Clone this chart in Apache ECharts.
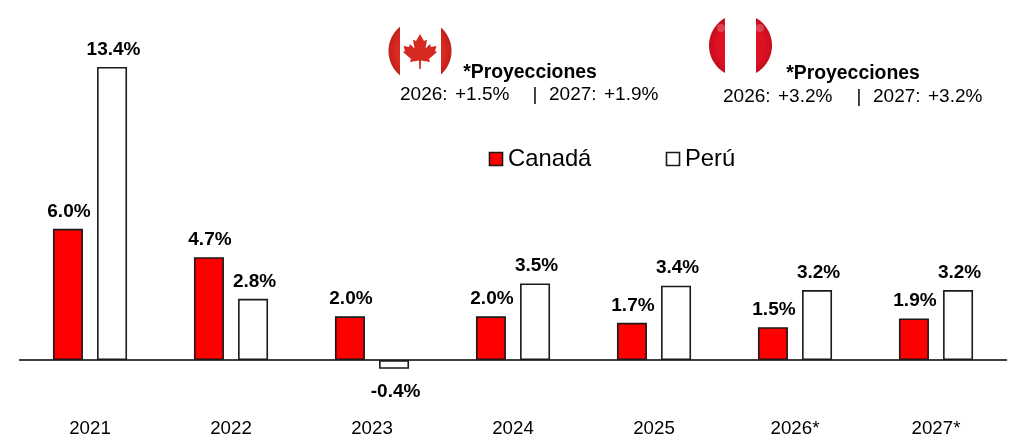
<!DOCTYPE html>
<html><head><meta charset="utf-8">
<style>html,body{margin:0;padding:0;background:#fff}#c{width:1018px;height:438px}</style>
<script src="https://cdn.jsdelivr.net/npm/echarts@6/dist/echarts.min.js"></script>
</head><body><div id="c"></div>
<script>
const categories = ['2021','2022','2023','2024','2025','2026*','2027*'];
const canada = [6.0,4.7,2.0,2.0,1.7,1.5,1.9];
const peru = [13.4,2.8,-0.4,3.5,3.4,3.2,3.2];
const FONT = '"Liberation Sans", Arial, sans-serif';
const chart = echarts.init(document.getElementById('c'),null,{renderer:'canvas'});
function lab(dx){return {show:true,position:'top',distance:8,offset:[dx,0],fontFamily:FONT,fontSize:19,fontWeight:'bold',color:'#000',
  formatter:p=>p.value.toFixed(1)+'%'};}
function radial(cx,cy,r,inner,outer){return {type:'radial',x:cx,y:cy,r,global:true,colorStops:[{offset:0,color:inner},{offset:0.75,color:inner},{offset:1,color:outer}]};}
function seg(cx,cy,r,x0,side,fill){
  const a=Math.acos(Math.abs(x0-cx)/r),pts=[];
  for(let i=0;i<=48;i++){const t=-a+2*a*i/48;pts.push([cx+side*r*Math.cos(t),cy+r*Math.sin(t)]);}
  return {type:'polygon',shape:{points:pts},z:5,style:{fill}};
}
const leaf = [[0,-17],[4,-10],[7,-11.5],[5.5,-2.5],[10,-7],[11,-4],[16.5,-5],[15,0],[17,1],[9,8],[10,11],[1,9.5],[0.8,18],[-0.8,18],[-1,9.5],[-10,11],[-9,8],[-17,1],[-15,0],[-16.5,-5],[-11,-4],[-10,-7],[-5.5,-2.5],[-7,-11.5],[-4,-10]];
function txt(x,y,t,bold,size,align){return {type:'text',x,y,z:10,style:{text:t,font:(bold?'bold ':'')+size+'px '+FONT,fill:'#000',align:align||'left',verticalAlign:'middle'}};}
const caRed=radial(420,51,31.5,'#da2a22','#bf201a'), peRed=radial(740.5,45.5,31.5,'#de1024','#c40d1c');
chart.setOption({
  animation:false,
  grid:{left:19.5,right:11.5,top:21,bottom:21.1,outerBoundsMode:'none'},
  xAxis:[
    {type:'category',data:categories,
     axisLine:{onZero:true,lineStyle:{color:'#000',width:1.5}},axisTick:{show:false},axisLabel:{show:false}},
    {type:'category',data:categories,position:'bottom',
     axisLine:{show:false,onZero:false},axisTick:{show:false},
     axisLabel:{interval:0,fontFamily:FONT,fontSize:18.7,color:'#000',margin:2}}
  ],
  yAxis:{type:'value',min:-2.6,max:15.5,show:false,splitLine:{show:false}},
  series:[
    {name:'Canadá',type:'bar',data:canada,barWidth:30,barGap:'47%',label:lab(1),
      itemStyle:{color:'#ff0000',borderColor:'#1a1a1a',borderWidth:1.6}},
    {name:'Perú',type:'bar',barWidth:30,barGap:'47%',label:lab(1.5),
      data:peru.map(v=>v<0?{value:v,label:{position:'bottom',distance:13}}:v),
      itemStyle:{color:'#ffffff',borderColor:'#1a1a1a',borderWidth:1.6}}
  ],
  graphic:[seg(420,51,31.5,400,-1,caRed),seg(420,51,31.5,441,1,caRed),
    seg(740.5,45.5,31.5,725,-1,peRed),seg(740.5,45.5,31.5,756,1,peRed),
    {type:'circle',z:6,shape:{cx:721,cy:28,r:4},style:{fill:'rgba(255,255,255,0.22)'}},
    {type:'circle',z:6,shape:{cx:760,cy:28,r:4},style:{fill:'rgba(255,255,255,0.22)'}},
    {type:'polygon',x:420,y:51,z:5,shape:{points:leaf},style:{fill:'#d62a20'}},
    txt(530,72.5,'*Proyecciones',true,19.4,'center'),
    txt(400,95,'2026:',false,19),txt(455,95,'+1.5%',false,19),
    txt(535,95,'|',false,19,'center'),txt(549,95,'2027:',false,19),txt(604,95,'+1.9%',false,19),
    txt(853,74,'*Proyecciones',true,19.4,'center'),
    txt(723,97,'2026:',false,19),txt(778,97,'+3.2%',false,19),
    txt(859,97,'|',false,19,'center'),txt(873,97,'2027:',false,19),txt(928,97,'+3.2%',false,19),
    {type:'rect',z:5,shape:{x:489.5,y:152.5,width:13,height:13},style:{fill:'#ff0000',stroke:'#1a1a1a',lineWidth:1.6}},
    txt(508,159.5,'Canadá',false,23.8),
    {type:'rect',z:5,shape:{x:666.5,y:152.5,width:13,height:13},style:{fill:'#fff',stroke:'#1a1a1a',lineWidth:1.6}},
    txt(685,159.5,'Perú',false,23.8)
  ]
});
</script></body></html>
